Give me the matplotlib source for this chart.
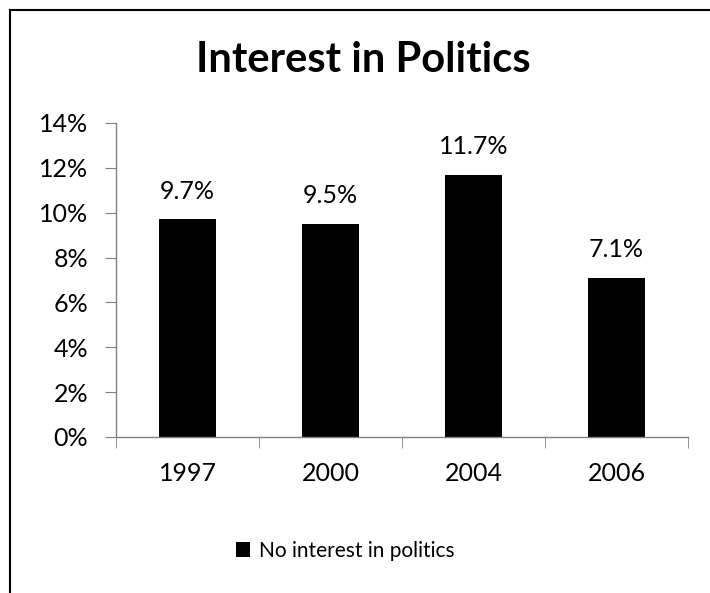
import matplotlib
matplotlib.use("Agg")
import matplotlib.pyplot as plt
from matplotlib.lines import Line2D
from matplotlib.ticker import FuncFormatter, MultipleLocator
import numpy as np

categories = ["1997", "2000", "2004", "2006"]
values = [9.7, 9.5, 11.7, 7.1]
series_name = "No interest in politics"
title = "Interest in Politics"

plt.rcParams['font.family'] = ['Lato', 'DejaVu Sans']

W, H = 710, 593
fig = plt.figure(figsize=(W/100, H/100), dpi=100)
ax = fig.add_axes([116/W, 1-437/H, (688-116)/W, (437-123)/H])

x = np.arange(len(categories))
bars = ax.bar(x, values, width=0.4, color="black", label=series_name)
ax.set_xlim(-0.5, len(categories)-0.5)
ax.set_ylim(0, 14)
ax.yaxis.set_major_locator(MultipleLocator(2))
ax.yaxis.set_major_formatter(FuncFormatter(lambda v, p: f"{v:.0f}%"))
ax.set_xticks(x)
ax.set_xticklabels(categories)
ax.set_xticks(np.arange(len(categories)+1)-0.5, minor=True)
ax.tick_params(axis='x', which='major', length=0, pad=18, labelsize=18)
ax.tick_params(axis='x', which='minor', length=8, color="#808080", direction="out")
ax.tick_params(axis='y', length=8, color="#808080", labelsize=18, pad=12)
for s in ["top", "right"]:
    ax.spines[s].set_visible(False)
for s in ["left", "bottom"]:
    ax.spines[s].set_color("#808080")
    ax.spines[s].set_linewidth(1)

for xi, v in zip(x, values):
    ax.annotate(f"{v}%", (xi, v), xytext=(0, 12), textcoords="offset points",
                ha="center", va="bottom", fontsize=18)

fig.text(363/W, 1-60/H, title, ha="center", va="center", fontsize=30, fontweight="bold")

fig.legend(loc="center", bbox_to_anchor=(345/W, 1-551/H), frameon=False,
           fontsize=15, handlelength=0.7, handleheight=0.7, handletextpad=0.4)

fig.add_artist(Line2D([9.5/W, 9.5/W], [0, 1-10/H], color="black", lw=1.5, transform=fig.transFigure))
fig.add_artist(Line2D([9.5/W, 1], [1-10/H, 1-10/H], color="black", lw=1.5, transform=fig.transFigure))

fig.savefig("out.png", dpi=100)
